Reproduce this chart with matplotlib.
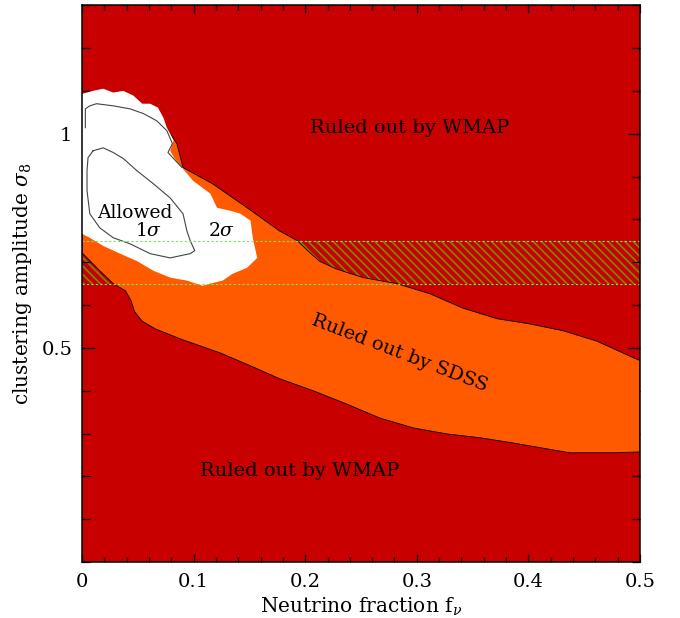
import matplotlib
matplotlib.use('Agg')
import matplotlib.pyplot as plt
from matplotlib.ticker import MultipleLocator

plt.rcParams['font.family'] = ['DejaVu Serif']
plt.rcParams['mathtext.fontset'] = 'dejavuserif'
plt.rcParams['hatch.linewidth'] = 1.2

# band from cluster abundance (sigma_8 range)
band_lo = 0.65
band_hi = 0.75

# region ruled out by SDSS but allowed by WMAP (orange), upper edge left->right
sdss_top_x = [0.0, 0.070, 0.077, 0.085, 0.0905, 0.117, 0.148, 0.177, 0.193, 0.203, 0.213,
              0.228, 0.252, 0.282, 0.312, 0.341, 0.372, 0.401, 0.431, 0.461, 0.5]
sdss_top_y = [1.007, 1.012, 1.007, 0.977, 0.921, 0.883, 0.827, 0.773, 0.750, 0.725, 0.702,
              0.684, 0.664, 0.650, 0.626, 0.593, 0.568, 0.556, 0.540, 0.516, 0.470]
# lower edge right->left
sdss_bot_x = [0.5, 0.476, 0.437, 0.417, 0.386, 0.357, 0.327, 0.297, 0.267, 0.237, 0.207,
              0.177, 0.151, 0.124, 0.088, 0.066, 0.054, 0.047, 0.044, 0.039, 0.028, 0.016, 0.0]
sdss_bot_y = [0.257, 0.255, 0.255, 0.264, 0.278, 0.290, 0.299, 0.313, 0.336, 0.369, 0.400,
              0.428, 0.458, 0.488, 0.521, 0.544, 0.562, 0.585, 0.610, 0.633, 0.650, 0.680, 0.722]

# allowed region (2 sigma)
allowed_x = [0.0, 0.0099, 0.019, 0.028, 0.037, 0.046, 0.054, 0.061, 0.068, 0.073, 0.076,
             0.079, 0.082, 0.079, 0.083, 0.0905, 0.0995, 0.115, 0.121, 0.133, 0.142, 0.151,
             0.153, 0.157, 0.148, 0.135, 0.126, 0.115, 0.108, 0.094, 0.079, 0.064, 0.049,
             0.034, 0.019, 0.007, 0.0]
allowed_y = [1.093, 1.100, 1.105, 1.096, 1.100, 1.089, 1.070, 1.070, 1.061, 1.037, 1.014,
             1.000, 0.984, 0.960, 0.942, 0.918, 0.890, 0.860, 0.827, 0.820, 0.813, 0.797,
             0.757, 0.710, 0.687, 0.673, 0.657, 0.650, 0.645, 0.657, 0.664, 0.680, 0.703,
             0.720, 0.738, 0.757, 0.766]

# WMAP-only contour (grey line)
wmap_x = [0.003, 0.003, 0.007, 0.013, 0.028, 0.043, 0.055, 0.067, 0.076, 0.081, 0.077,
          0.082, 0.0896]
wmap_y = [1.014, 1.058, 1.065, 1.070, 1.065, 1.058, 1.047, 1.030, 1.007, 0.977, 0.956,
          0.942, 0.921]

# 1 sigma contour
sig1_x = [0.0099, 0.019, 0.028, 0.037, 0.049, 0.064, 0.079, 0.0905, 0.094, 0.097, 0.101,
          0.097, 0.079, 0.061, 0.043, 0.028, 0.016, 0.007, 0.0045, 0.0045, 0.0054, 0.0099]
sig1_y = [0.960, 0.967, 0.956, 0.942, 0.914, 0.883, 0.850, 0.813, 0.773, 0.750, 0.727,
          0.720, 0.710, 0.720, 0.743, 0.757, 0.780, 0.813, 0.867, 0.914, 0.944, 0.960]

red = '#c80000'
orange = '#ff5a00'

fig = plt.figure(figsize=(6.8, 6.18), dpi=100)
ax = fig.add_axes([0.1206, 0.0906, 0.8206, 0.901])
ax.set_facecolor(red)

ax.fill_between([0, 0.5], band_lo, band_hi, facecolor='none', edgecolor='#7a8800',
                hatch='\\\\\\\\', linewidth=0, zorder=1)

ax.fill(sdss_top_x + sdss_bot_x, sdss_top_y + sdss_bot_y, facecolor=orange,
        edgecolor='black', linewidth=0.6, zorder=2)
ax.fill(allowed_x, allowed_y, facecolor='white', edgecolor='none', zorder=3)
ax.plot(wmap_x, wmap_y, color='#444444', lw=0.8, zorder=4)
ax.plot(sig1_x, sig1_y, color='#444444', lw=0.8, zorder=4)

for yv in [band_lo, band_hi]:
    ax.axhline(yv, color='#70e860', lw=0.8, ls=(0, (2, 2)), zorder=5)

ax.text(0.294, 1.014, 'Ruled out by WMAP', fontsize=14, ha='center', va='center')
ax.text(0.195, 0.213, 'Ruled out by WMAP', fontsize=14, ha='center', va='center')
ax.text(0.285, 0.487, 'Ruled out by SDSS', fontsize=14, ha='center', va='center',
        rotation=-21, rotation_mode='anchor', zorder=6)
ax.text(0.047, 0.814, 'Allowed', fontsize=13.5, ha='center', va='center', zorder=6)
ax.text(0.060, 0.772, r'1$\sigma$', fontsize=13.5, ha='center', va='center', zorder=6)
ax.text(0.125, 0.772, r'2$\sigma$', fontsize=13.5, ha='center', va='center', zorder=6)

ax.set_xlim(0, 0.5)
ax.set_ylim(0, 1.3)
ax.set_xticks([0, 0.1, 0.2, 0.3, 0.4, 0.5])
ax.set_xticklabels(['0', '0.1', '0.2', '0.3', '0.4', '0.5'])
ax.set_yticks([0.5, 1.0])
ax.set_yticklabels(['0.5', '1'])
ax.xaxis.set_minor_locator(MultipleLocator(0.02))
ax.yaxis.set_minor_locator(MultipleLocator(0.1))
ax.tick_params(which='both', direction='in', top=True, right=True, labelsize=14, width=0.9)
ax.tick_params(axis='x', which='major', length=6, pad=8)
ax.tick_params(axis='x', which='minor', length=3.5)
ax.tick_params(axis='y', which='major', length=9, pad=7)
ax.tick_params(axis='y', which='minor', length=6)
for s in ax.spines.values():
    s.set_linewidth(1.1)
    s.set_zorder(7)

ax.set_xlabel(r'Neutrino fraction f$_\nu$', fontsize=14.5, labelpad=3)
ax.set_ylabel(r'clustering amplitude $\sigma_8$', fontsize=14.5, labelpad=5)

fig.savefig('out.png', dpi=100)
